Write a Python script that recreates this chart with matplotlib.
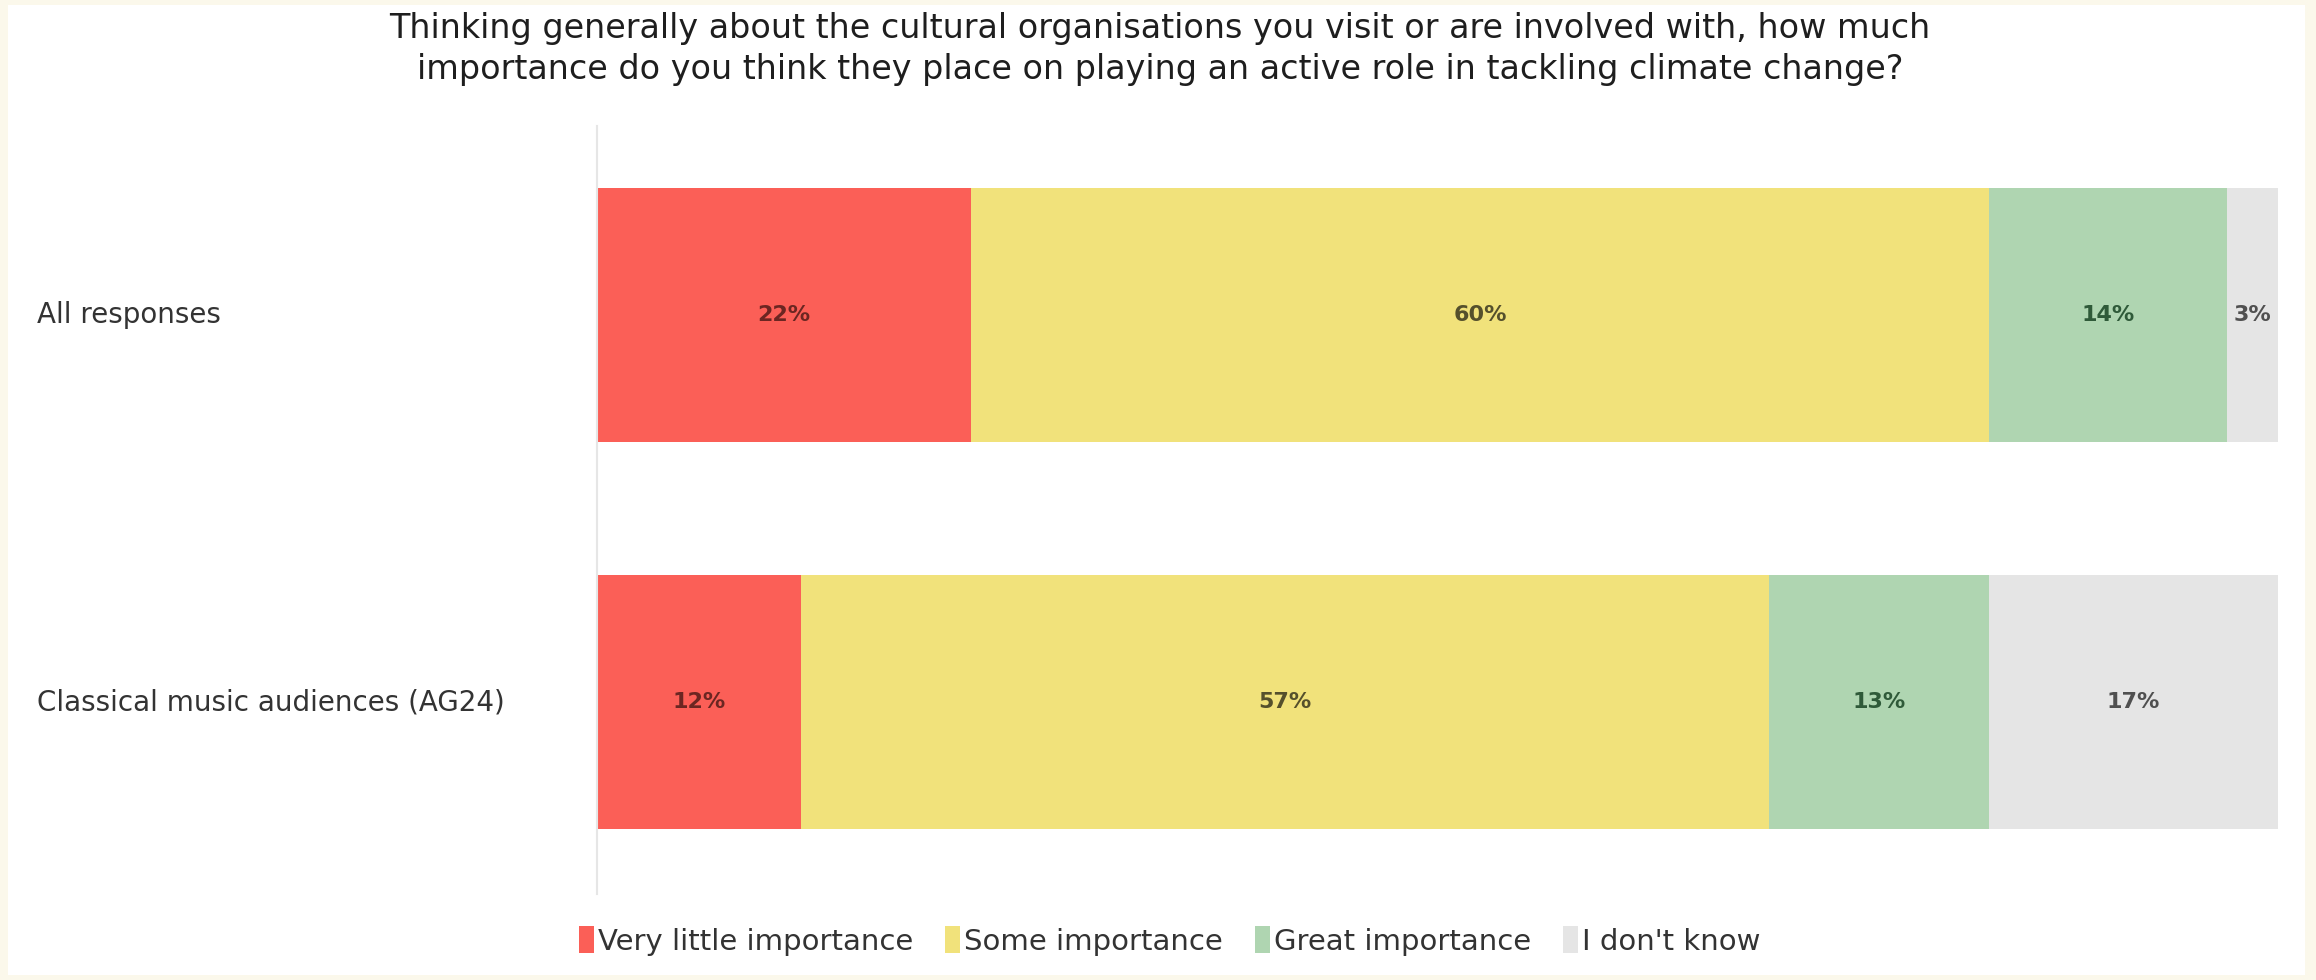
import matplotlib.pyplot as plt
from matplotlib.patches import Rectangle
from matplotlib.transforms import blended_transform_factory
import numpy as np

# survey answers, percent of respondents
groups = ['All responses', 'Classical music audiences (AG24)']
answers = ['Very little importance', 'Some importance', 'Great importance', "I don't know"]
very_little = [22, 12]
some = [60, 57]
great = [14, 13]
dont_know = [3, 17]

title = ('Thinking generally about the cultural organisations you visit or are involved with, how much\n'
         'importance do you think they place on playing an active role in tackling climate change?')

bar_colors = ['#fb5f57', '#f1e27b', '#afd5b1', '#e5e5e5']
text_colors = ['#6b2622', '#55502c', '#2f5a39', '#505050']

plt.rcParams['font.family'] = ['DejaVu Sans']

fig = plt.figure(figsize=(23.16, 9.8), dpi=100)
fig.patch.set_facecolor('#fbf8eb')
# white card on the cream background
fig.add_artist(Rectangle((8/2316, 5/980), 2297/2316, 970/980, transform=fig.transFigure,
                         facecolor='white', edgecolor='none', zorder=0))

ax = fig.add_axes([597/2316, 1 - 894/980, 1681/2316, 768/980])
ax.set_facecolor('none')

series = [very_little, some, great, dont_know]
y = np.arange(len(groups))
left = np.zeros(len(groups))
for vals, name, col, tcol in zip(series, answers, bar_colors, text_colors):
    vals = np.array(vals, dtype=float)
    ax.barh(y, vals, left=left, height=0.656, color=col, label=name, edgecolor='none')
    for yi, (l, v) in enumerate(zip(left, vals)):
        ax.text(l + v / 2, yi, '%d%%' % v, ha='center', va='center',
                fontsize=16, fontweight='bold', color=tcol)
    left += vals

ax.set_xlim(0, left.max())
ax.set_ylim(1.496, -0.488)
ax.set_xticks([])
ax.set_yticks([])
for s in ['top', 'right', 'bottom']:
    ax.spines[s].set_visible(False)
ax.spines['left'].set_color('#e6e6e6')
ax.spines['left'].set_linewidth(1.5)

trans = blended_transform_factory(fig.transFigure, ax.transData)
for yi, g in zip(y, groups):
    ax.text(37/2316, yi, g, transform=trans, ha='left', va='center',
            fontsize=20, color='#333333')

fig.text(1160/2316, 1 - 49/980, title, ha='center', va='center', fontsize=24,
         color='#1e1e1e', linespacing=1.3)

handles, labels = ax.get_legend_handles_labels()
fig.legend(handles, labels, loc='center', bbox_to_anchor=(1170/2316, 1 - 941/980),
           ncol=4, frameon=False, fontsize=21, handlelength=0.5, handleheight=1.0,
           handletextpad=0.15, columnspacing=1.1, labelcolor='#333333')

fig.savefig('out.png', dpi=100, facecolor=fig.get_facecolor())
